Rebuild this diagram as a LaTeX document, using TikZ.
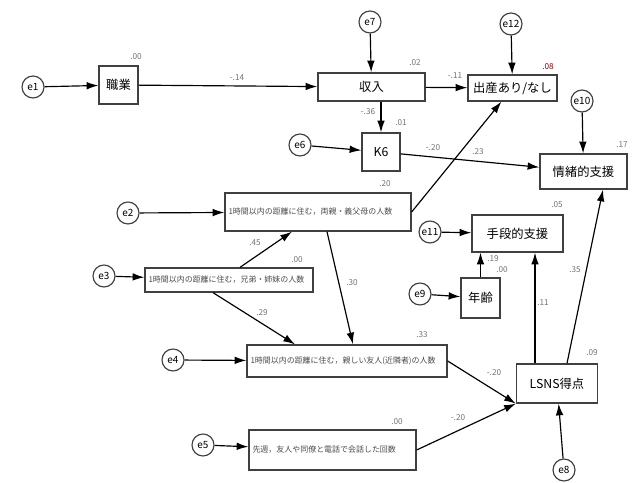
\documentclass[tikz,border=0pt]{standalone}
\usepackage{fontspec}
\setmainfont{Noto Sans CJK JP}
\usepackage{tikz}
\usetikzlibrary{arrows.meta, calc}

\begin{document}
\begin{tikzpicture}[
    % one unit is one pixel of the reference, y runs downwards
    x=0.03cm, y=-0.03cm,
    box/.style={
        rectangle, draw=black!75, line width=1.1pt, fill=white,
        inner sep=2pt, text centered,
        font=\fontsize{10.5}{12}\selectfont
    },
    longbox/.style={box, font=\fontsize{6.8}{8}\selectfont, text=black!70,
        align=left, text width=#1*0.03cm-6pt},
    boxsize/.style 2 args={minimum width=#1*0.03cm, minimum height=#2*0.03cm},
    err/.style={
        circle, draw=black!75, line width=1pt, inner sep=0pt,
        minimum size=0.66cm, font=\fontsize{8.5}{10}\selectfont
    },
    lbl/.style={font=\fontsize{7}{8}\selectfont, text=black!55, inner sep=0pt},
    arrow/.style={-{Latex[length=10pt, width=6.5pt]}, line width=1pt, draw=black}
]
  \useasboundingbox (0,0) rectangle (633,483);

  % Observed variables
  \node[box, boxsize={39}{38}] (job) at (118.5,85) {職業};
  \node[box, boxsize={107}{28}] (income) at (371.5,87) {収入};
  \node[box, boxsize={89}{26}] (birth) at (512.5,88) {出産あり/なし};
  \node[box, boxsize={38}{38}] (k6) at (381,152) {K6};
  \node[box, boxsize={87}{35}] (emo) at (583.5,171.5) {情緒的支援};
  \node[longbox=186, boxsize={186}{38}] (parents) at (318,212) {1時間以内の距離に住む，両親・義父母の人数};
  \node[longbox=168, boxsize={168}{24}] (sibs) at (229,280) {1時間以内の距離に住む，兄弟・姉妹の人数};
  \node[longbox=200, boxsize={200}{32}] (friends) at (347,361) {1時間以内の距離に住む，親しい友人(近隣者)の人数};
  \node[longbox=167, boxsize={167}{40}] (phone) at (332.5,450) {先週，友人や同僚と電話で会話した回数};
  \node[box, boxsize={91}{37}] (instr) at (517.5,233.5) {手段的支援};
  \node[box, boxsize={39}{40}] (age) at (480.5,298) {年齢};
  \node[box, boxsize={81}{39}] (lsns) at (557,383.5) {LSNS得点};

  % Error terms
  \node[err] (e1) at (33,87) {e1};
  \node[err] (e2) at (128,213) {e2};
  \node[err] (e3) at (104,276) {e3};
  \node[err] (e4) at (173,360) {e4};
  \node[err] (e5) at (203,445) {e5};
  \node[err] (e6) at (300,145) {e6};
  \node[err] (e7) at (370,22) {e7};
  \node[err] (e8) at (564,470) {e8};
  \node[err] (e9) at (420,294) {e9};
  \node[err] (e10) at (582,101) {e10};
  \node[err] (e11) at (430,232) {e11};
  \node[err] (e12) at (511,24) {e12};

  % Error arrows
  \draw[arrow] (e1) -- (job);
  \draw[arrow] (e2) -- (parents);
  \draw[arrow] (e3) -- (sibs);
  \draw[arrow] (e4) -- (friends);
  \draw[arrow] (e5) -- (phone);
  \draw[arrow] (e6) -- (k6);
  \draw[arrow] (e7) -- (income);
  \draw[arrow] (e8) -- (lsns);
  \draw[arrow] (e9) -- (age);
  \draw[arrow] (e10) -- (emo);
  \draw[arrow] (e11) -- (instr);
  \draw[arrow] (e12) -- (birth);

  % Paths
  \draw[arrow] (job) -- (income);
  \draw[arrow] (income) -- (birth);
  \draw[arrow] (k6.north |- income.south) -- (k6.north);
  \draw[arrow] (k6) -- (emo);
  \draw[arrow] (parents.east) -- (birth);
  \draw[arrow] ($(sibs.north)+(11,0)$) -- ($(parents.south)+(-26,0)$);
  \draw[arrow] ($(sibs.south)+(-16,0)$) -- ($(friends.north)+(-52,0)$);
  \draw[arrow] ($(parents.south)+(9,0)$) -- ($(friends.north)+(6,0)$);
  \draw[arrow] (friends.east) -- (lsns.south west);
  \draw[arrow] (phone.east) -- (lsns.south west);
  \draw[arrow] ($(lsns.north)+(-22,0)$) -- ($(instr.south)+(17.5,0)$);
  \draw[arrow] ($(lsns.north)+(10,0)$) -- ($(emo.south)+(19.5,0)$);
  \draw[arrow] (age.north) -- (age.north |- instr.south);

  % Path coefficients
  \node[lbl] (c1) at (237,78) {-.14};
  \node[lbl] (c2) at (455,76) {-.11};
  \node[lbl] (c3) at (368,112) {-.36};
  \node[lbl] (c4) at (433,148) {-.20};
  \node[lbl] (c5) at (478,152) {.23};
  \node[lbl] (c6) at (255,243) {.45};
  \node[lbl] (c7) at (352,283) {.30};
  \node[lbl] (c8) at (262,313) {.29};
  \node[lbl] (c9) at (494,373) {-.20};
  \node[lbl] (c10) at (458,418) {-.20};
  \node[lbl] (c11) at (493,259) {.19};
  \node[lbl] (c12) at (543,303) {.11};
  \node[lbl] (c13) at (575,270) {.35};

  % Squared multiple correlations
  \node[lbl] (r1) at (136,57) {.00};
  \node[lbl] (r2) at (415,63) {.02};
  \node[lbl, text=red!55!black] (r3) at (548,67) {.08};
  \node[lbl] (r4) at (401,123) {.01};
  \node[lbl] (r5) at (622,145) {.17};
  \node[lbl] (r6) at (385,184) {.20};
  \node[lbl] (r7) at (297,260) {.00};
  \node[lbl] (r8) at (422,335) {.33};
  \node[lbl] (r9) at (397,422) {.00};
  \node[lbl] (r10) at (592,353) {.09};
  \node[lbl] (r11) at (557,205) {.05};
  \node[lbl] (r12) at (502,270) {.00};

\end{tikzpicture}
\end{document}
